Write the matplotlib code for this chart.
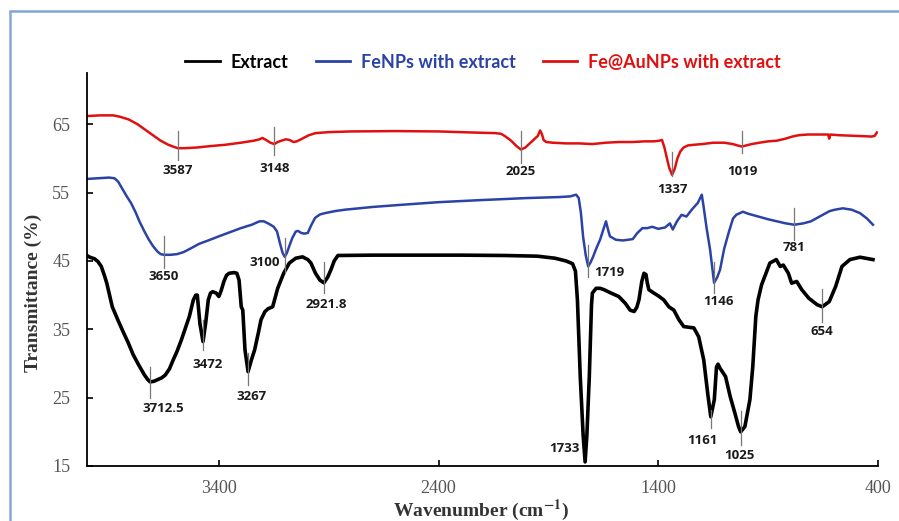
import matplotlib
matplotlib.use("Agg")
import matplotlib.pyplot as plt
from matplotlib.patches import Rectangle

# FTIR spectra (transmittance %) vs wavenumber (cm-1)
extract_wn = [4000, 3991, 3965, 3950, 3935, 3920, 3910, 3885, 3860, 3835, 3812, 3790, 3765, 3740, 3725,
              3712.5, 3695, 3681, 3660, 3644, 3625, 3608, 3590, 3571, 3552, 3534, 3516, 3505, 3498, 3486,
              3472, 3460, 3448, 3438, 3428, 3412, 3400, 3390, 3377, 3365, 3353, 3330, 3318, 3308, 3298,
              3291, 3281, 3267, 3252, 3237, 3220, 3208, 3190, 3176, 3155, 3132, 3105, 3079, 3050, 3019,
              2995, 2981, 2960, 2940, 2921.8, 2905, 2890, 2875, 2858, 2700, 2500, 2300, 2100, 1950, 1870,
              1820, 1790, 1777, 1768, 1755, 1742, 1733, 1725, 1714, 1704, 1700, 1683, 1665, 1647, 1615,
              1580, 1550, 1528, 1510, 1498, 1488, 1475, 1465, 1456, 1450, 1443, 1420, 1400, 1375, 1352,
              1329, 1306, 1284, 1260, 1238, 1216, 1203, 1193, 1175, 1161, 1145, 1135, 1128, 1119, 1094,
              1073, 1051, 1035, 1025, 1006, 983, 970, 956, 946, 930, 910, 892, 863, 845, 831, 808, 793,
              770, 747, 715, 677, 654, 622, 593, 564, 528, 482, 423]
extract_t = [45.8, 45.6, 45.3, 44.9, 44.2, 42.8, 41.75, 38.3, 36.4, 34.6, 33.0, 31.3, 29.8, 28.4, 27.7,
             27.3, 27.4, 27.6, 27.9, 28.3, 29.2, 30.5, 31.8, 33.4, 35.2, 36.9, 39.3, 40.0, 40.0, 35.8,
             33.2, 35.9, 39.3, 40.3, 40.5, 40.3, 39.8, 40.6, 42.0, 42.9, 43.2, 43.3, 43.2, 42.2, 38.3,
             37.8, 32.0, 28.8, 30.5, 32.0, 34.5, 36.4, 37.6, 38.0, 38.3, 41.0, 43.2, 44.7, 45.4, 45.6,
             45.2, 44.7, 43.2, 42.2, 41.8, 42.6, 43.7, 45.0, 45.8, 45.85, 45.85, 45.85, 45.8, 45.7, 45.4,
             45.0, 44.6, 43.5, 39.3, 28.0, 19.5, 15.6, 19.5, 28.0, 38.5, 40.3, 41.0, 41.0, 40.8, 40.3,
             39.8, 38.8, 37.8, 37.6, 38.2, 39.3, 42.0, 43.2, 43.0, 41.8, 40.8, 40.3, 39.9, 39.3, 38.3,
             37.8, 36.4, 35.4, 35.3, 35.2, 33.9, 32.0, 30.5, 25.6, 22.2, 24.7, 29.5, 29.9, 29.3, 28.1,
             25.2, 22.7, 20.8, 20.0, 20.75, 24.7, 29.5, 36.9, 39.3, 41.5, 43.2, 44.7, 45.2, 44.2, 44.4,
             43.2, 41.75, 42.0, 40.8, 39.55, 38.6, 38.3, 39.05, 41.25, 44.2, 45.2, 45.55, 45.2]

fenps_wn = [4000, 3950, 3900, 3875, 3858, 3840, 3820, 3800, 3780, 3760, 3740, 3720, 3700, 3680, 3665,
            3650, 3620, 3590, 3560, 3530, 3490, 3440, 3400, 3350, 3300, 3250, 3215, 3195, 3170, 3150,
            3135, 3122, 3110, 3100, 3090, 3078, 3065, 3050, 3040, 3025, 3010, 2995, 2980, 2962, 2940,
            2917, 2870, 2826, 2700, 2576, 2400, 2211, 2000, 1850, 1800, 1774, 1762, 1752, 1742, 1730,
            1719, 1708, 1697, 1680, 1665, 1650, 1638, 1628, 1620, 1593, 1560, 1516, 1495, 1472, 1450,
            1428, 1400, 1369, 1347, 1334, 1315, 1294, 1272, 1245, 1220, 1202, 1194, 1180, 1164, 1146,
            1132, 1119, 1100, 1080, 1060, 1045, 1015, 990, 945, 900, 860, 820, 781, 740, 705, 660, 620,
            596, 560, 520, 482, 450, 423]
fenps_t = [57.0, 57.1, 57.2, 57.1, 56.6, 55.6, 54.5, 53.5, 52.2, 50.7, 49.4, 48.2, 47.2, 46.4, 46.0,
           45.9, 45.9, 46.0, 46.3, 46.8, 47.5, 48.1, 48.6, 49.2, 49.8, 50.3, 50.8, 50.8, 50.4, 50.0,
           49.3, 47.6, 46.2, 45.6, 46.2, 47.3, 48.4, 49.3, 49.4, 49.1, 49.0, 49.1, 50.2, 51.3, 51.8,
           52.0, 52.3, 52.5, 52.9, 53.2, 53.6, 53.9, 54.2, 54.35, 54.45, 54.7, 54.2, 52.0, 48.5, 45.8,
           44.2, 44.8, 45.6, 47.0, 48.1, 49.6, 50.8, 49.5, 48.6, 48.1, 48.0, 48.2, 49.1, 49.8, 49.8,
           50.0, 49.7, 49.9, 50.5, 49.6, 50.8, 51.75, 51.5, 52.6, 53.5, 54.7, 53.0, 49.8, 46.6, 41.8,
           42.6, 43.7, 46.8, 49.1, 51.2, 51.75, 52.2, 51.9, 51.5, 51.1, 50.8, 50.5, 50.3, 50.5, 50.8,
           51.6, 52.3, 52.5, 52.7, 52.5, 52.0, 51.2, 50.3]

feau_wn = [4000, 3940, 3880, 3850, 3810, 3770, 3735, 3700, 3665, 3630, 3605, 3587, 3555, 3500, 3440,
           3370, 3300, 3240, 3215, 3202, 3185, 3165, 3148, 3132, 3115, 3095, 3078, 3060, 3045, 3020,
           2990, 2960, 2900, 2800, 2600, 2400, 2250, 2140, 2115, 2095, 2070, 2045, 2025, 2005, 1985,
           1965, 1948, 1938, 1930, 1922, 1910, 1880, 1820, 1760, 1700, 1640, 1580, 1520, 1460, 1420,
           1395, 1383, 1372, 1362, 1350, 1337, 1325, 1313, 1300, 1285, 1265, 1237, 1200, 1150, 1100,
           1060, 1040, 1019, 1000, 975, 940, 900, 860, 820, 790, 760, 720, 680, 640, 627, 622, 617,
           580, 540, 500, 460, 430, 415, 405]
feau_t = [66.2, 66.3, 66.3, 66.1, 65.7, 65.0, 64.2, 63.4, 62.6, 62.0, 61.7, 61.5, 61.5, 61.6, 61.8,
          62.0, 62.3, 62.6, 62.8, 63.0, 62.7, 62.3, 62.1, 62.4, 62.6, 62.8, 62.7, 62.4, 62.5, 62.9,
          63.4, 63.7, 63.85, 63.95, 64.0, 63.95, 63.8, 63.7, 63.6, 63.2, 62.6, 61.8, 61.3, 61.6, 62.2,
          62.8, 63.3, 64.1, 63.6, 62.7, 62.4, 62.3, 62.2, 62.2, 62.1, 62.3, 62.4, 62.4, 62.5, 62.5,
          62.6, 62.7, 61.6, 60.2, 58.6, 57.6, 58.5, 60.0, 61.0, 61.6, 61.9, 62.0, 62.1, 62.3, 62.3,
          62.1, 61.9, 61.75, 61.9, 62.1, 62.3, 62.5, 62.6, 62.9, 63.2, 63.4, 63.5, 63.5, 63.5, 63.5,
          62.9, 63.5, 63.4, 63.35, 63.3, 63.25, 63.2, 63.3, 63.8]

# labelled band positions (cm-1)
extract_peaks = [3712.5, 3472, 3267, 2921.8, 1733, 1161, 1025, 654]
fenps_peaks = [3650, 3100, 1719, 1146, 781]
feau_peaks = [3587, 3148, 2025, 1337, 1019]

# per-label layout: marker top, marker bottom, text x shift (px), text y, alignment
label_layout = {
    3712.5: (29.5, 24.9, 13, 23.4, "center"),
    3472: (36.4, 32.0, 5, 29.9, "center"),
    3267: (31.5, 26.9, 3, 25.1, "center"),
    2921.8: (44.9, 40.3, 2, 38.6, "center"),
    1733: (None, None, -6, 17.5, "right"),
    1161: (23.2, 20.5, -8, 18.7, "center"),
    1025: (23.0, 18.1, -1, 16.6, "center"),
    654: (40.9, 36.1, 0, 34.7, "center"),
    3650: (48.7, 43.9, 0, 42.7, "center"),
    3100: (48.3, 43.45, -5, 44.8, "right"),
    1719: (47.4, 42.7, 6, 43.3, "left"),
    1146: (44.9, 40.3, 4, 39.05, "center"),
    781: (52.7, 48.1, 0, 46.9, "center"),
    3587: (64.0, 59.8, 0, 58.2, "center"),
    3148: (64.6, 60.5, 0, 58.5, "center"),
    2025: (64.0, 59.3, 0, 58.1, "center"),
    1337: (60.9, 57.5, 0, 55.4, "center"),
    1019: (64.0, 60.8, 0, 58.1, "center"),
}

serif = "Liberation Serif"
plt.rcParams["font.family"] = serif
plt.rcParams["mathtext.fontset"] = "stix"

fig = plt.figure(figsize=(8.99, 5.21), dpi=100)
ax = fig.add_axes([87 / 899, 55 / 521, 791 / 899, 393 / 521])

ax.plot(extract_wn, extract_t, color="black", lw=2.6, label="Extract", solid_joinstyle="round")
ax.plot(fenps_wn, fenps_t, color="#2b42a6", lw=1.8, label="FeNPs with extract")
ax.plot(feau_wn, feau_t, color="#e01010", lw=1.8, label="Fe@AuNPs with extract")

label_font = dict(family="Open Sans", fontweight="bold", fontsize=9.5, color="#1a1a1a")
for peak in extract_peaks + fenps_peaks + feau_peaks:
    top, bottom, dx, ty, ha = label_layout[peak]
    if top is not None:
        ax.plot([peak, peak], [bottom, top], color="#777777", lw=0.9, zorder=3)
    text = f"{peak:g}"
    ax.annotate(text, xy=(peak, ty), xytext=(dx * 0.72, 0), textcoords="offset points",
                ha=ha, va="center", **label_font)

ax.set_xlim(4000, 400)
ax.set_ylim(15, 72.5)
ax.set_xticks([3400, 2400, 1400, 400])
ax.set_yticks([15, 25, 35, 45, 55, 65])
ax.spines["top"].set_visible(False)
ax.spines["right"].set_visible(False)
ax.spines["left"].set_linewidth(1.3)
ax.spines["bottom"].set_linewidth(1.3)
ax.tick_params(axis="both", direction="in", length=4, width=1.2, labelsize=13, labelcolor="#555555")
ax.tick_params(axis="y", pad=12)
ax.tick_params(axis="x", pad=10)
for lab in ax.get_xticklabels() + ax.get_yticklabels():
    lab.set_fontfamily(serif)

fig.text(33 / 899, 1 - 293 / 521, "Transmittance (%)", rotation=90, ha="center", va="center",
         family=serif, fontsize=14, fontweight="bold", color="#333333")
fig.text(481 / 899, 1 - 510 / 521, "Wavenumber (cm$^{\\mathbf{-1}}$)", ha="center", va="center",
         family=serif, fontsize=14, fontweight="bold", color="#333333")

leg = ax.legend(loc="center", bbox_to_anchor=(483 / 899, 1 - 62 / 521), bbox_transform=fig.transFigure,
                ncol=3, frameon=False, handlelength=1.9, handletextpad=0.6, columnspacing=1.5,
                labelcolor="linecolor", prop=dict(family="Lato", weight="bold", size=13))
for line in leg.get_lines():
    line.set_linewidth(2.0)

# light blue frame around the panel
fig.add_artist(Rectangle((10 / 899, -0.05), 1.0, 1 - 11 / 521 + 0.05, transform=fig.transFigure,
                         fill=False, edgecolor="#86a5d6", lw=1.8))

fig.savefig("out.png", dpi=100)
